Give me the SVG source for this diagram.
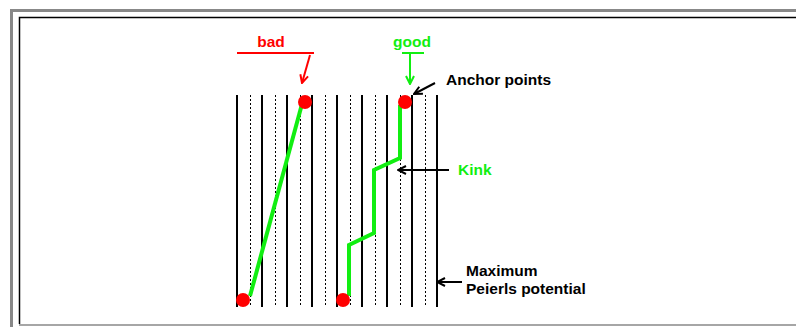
<svg xmlns="http://www.w3.org/2000/svg" width="796" height="327" viewBox="0 0 796 327">
<style>
.solid{stroke:#000;stroke-width:2}
.dot{stroke:#000;stroke-width:1;stroke-dasharray:2 2}
.lbl{font-family:"Liberation Sans",Arial,sans-serif;font-weight:bold;font-size:15.5px}
.blk{fill:#000}
.grn{fill:#11ee11}
.red{fill:#ff0000}
.arr{fill:none;stroke-width:2}
</style>
<defs>
<marker id="ahG" viewBox="0 0 10 10" refX="9" refY="5" markerWidth="10" markerHeight="10" orient="auto" markerUnits="userSpaceOnUse">
<path d="M1,1 L9,5 L1,9" fill="none" stroke="#11ee11" stroke-width="2"/>
</marker>
<marker id="ahR" viewBox="0 0 10 10" refX="9" refY="5" markerWidth="10" markerHeight="10" orient="auto" markerUnits="userSpaceOnUse">
<path d="M1,1 L9,5 L1,9" fill="none" stroke="#ff0000" stroke-width="2"/>
</marker>
<marker id="ahK2" viewBox="0 0 10 10" refX="9" refY="5" markerWidth="10" markerHeight="10" orient="auto" markerUnits="userSpaceOnUse">
<path d="M1,1 L9,5 L1,9" fill="none" stroke="#000" stroke-width="2"/>
</marker>
</defs>
<rect width="796" height="327" fill="#fff"/>
<g id="frame">
<rect x="10" y="9" width="786" height="3" fill="#888"/>
<rect x="10" y="9" width="3" height="318" fill="#888"/>
<path d="M19.5,324 V17.5 H796" fill="none" stroke="#000" stroke-width="1.5"/>
<line x1="19" y1="325" x2="796" y2="325" stroke="#888" stroke-width="1.5"/>
</g>
<g id="lattice">
<g class="solid">
<line x1="237" y1="95" x2="237" y2="307"/>
<line x1="262" y1="95" x2="262" y2="307"/>
<line x1="287" y1="95" x2="287" y2="307"/>
<line x1="312" y1="95" x2="312" y2="307"/>
<line x1="337" y1="95" x2="337" y2="307"/>
<line x1="362" y1="95" x2="362" y2="307"/>
<line x1="387" y1="95" x2="387" y2="307"/>
<line x1="412" y1="95" x2="412" y2="307"/>
<line x1="437" y1="95" x2="437" y2="307"/>
</g>
<g class="dot">
<line x1="250.5" y1="95" x2="250.5" y2="307"/>
<line x1="275.5" y1="95" x2="275.5" y2="307"/>
<line x1="300.5" y1="95" x2="300.5" y2="307"/>
<line x1="325.5" y1="95" x2="325.5" y2="307"/>
<line x1="350.5" y1="95" x2="350.5" y2="307"/>
<line x1="375.5" y1="95" x2="375.5" y2="307"/>
<line x1="400.5" y1="95" x2="400.5" y2="307"/>
<line x1="425.5" y1="95" x2="425.5" y2="307"/>
</g>
</g>
<g id="bad-dislocation">
<line x1="302" y1="104" x2="250" y2="296" stroke="#11ee11" stroke-width="4"/>
<circle cx="305" cy="102" r="7" fill="#ff0000"/>
<circle cx="243" cy="300" r="7" fill="#ff0000"/>
</g>
<g id="good-dislocation">
<polyline points="400,105 400,158 374,170 374,233 349,245 349,296" fill="none" stroke="#11ee11" stroke-width="4"/>
<circle cx="405" cy="102" r="7" fill="#ff0000"/>
<circle cx="343" cy="300" r="7" fill="#ff0000"/>
</g>
<g id="label-bad">
<text class="lbl red" x="271" y="47" text-anchor="middle">bad</text>
<line x1="237" y1="53" x2="314" y2="53" stroke="#ff0000" stroke-width="2"/>
</g>
<g id="label-good">
<text class="lbl grn" x="412" y="47" text-anchor="middle">good</text>
<line x1="402" y1="53" x2="424" y2="53" stroke="#11ee11" stroke-width="2"/>
</g>
<g id="label-anchor">
<text class="lbl blk" x="446" y="85">Anchor points</text>
</g>
<g id="label-kink">
<text class="lbl grn" x="458" y="175">Kink</text>
</g>
<g id="label-peierls">
<text class="lbl blk" x="466" y="276">Maximum</text>
<text class="lbl blk" x="466" y="294">Peierls potential</text>
</g>
<g id="connectors">
<line class="arr" x1="310" y1="55" x2="302" y2="83" stroke="#ff0000" marker-end="url(#ahR)"/>
<line class="arr" x1="410" y1="53" x2="410" y2="84" stroke="#11ee11" marker-end="url(#ahG)"/>
<line class="arr" x1="435" y1="83" x2="414" y2="94" stroke="#000" marker-end="url(#ahK2)"/>
<line class="arr" x1="449" y1="170" x2="398" y2="170" stroke="#000" marker-end="url(#ahK2)"/>
<line class="arr" x1="462" y1="282" x2="437" y2="282" stroke="#000" marker-end="url(#ahK2)"/>
</g>
</svg>
